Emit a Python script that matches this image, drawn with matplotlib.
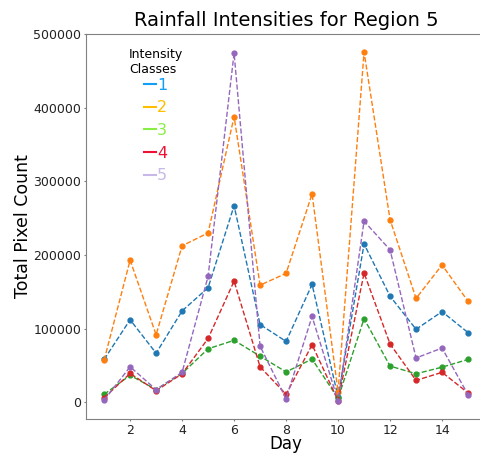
import numpy as np
import matplotlib
matplotlib.use('Agg')
import matplotlib.pyplot as plt
from matplotlib.lines import Line2D

days = list(range(1, 16))

class1 = [58000, 112000, 66500, 124000, 155500, 267000, 105500, 82500, 160000, 7000, 215000, 144000, 99000, 123000, 94500]
class2 = [57000, 193000, 91500, 212500, 230000, 388000, 159000, 175000, 283000, 14000, 476000, 248000, 141000, 186500, 137000]
class3 = [10500, 36500, 17000, 39000, 72500, 84000, 62500, 41000, 58500, 5000, 113500, 49000, 38500, 47500, 58000]
class4 = [5800, 39000, 15500, 38500, 86500, 164500, 48000, 10500, 78000, 2000, 175500, 79000, 29500, 40500, 12500]
class5 = [2700, 48000, 17000, 40500, 171000, 474500, 76000, 4500, 116500, 1400, 246000, 207000, 60000, 73500, 10000]

labels = ['1', '2', '3', '4', '5']
legend_colors = ['#129ff5', '#ffbf00', '#88ee44', '#ee1133', '#c8b8e8']

fig = plt.figure(figsize=(4.8, 4.53), dpi=100)
ax = fig.add_axes([0.179, 0.075, 0.834, 0.85])

for vals in [class1, class2, class3, class4, class5]:
    ax.plot(days, vals, linestyle='--', marker='o', markersize=3.5, linewidth=1)

ax.set_xlim(0.3, 15.7)
ax.set_ylim(-23000, 500500)
ax.set_title('Rainfall Intensities for Region 5', fontsize=14)
ax.set_xlabel('Day', fontsize=12, labelpad=-1)
ax.set_ylabel('Total Pixel Count', fontsize=12.5, labelpad=1)
ax.set_xticks([2, 4, 6, 8, 10, 12, 14])
ax.tick_params(labelsize=9, length=1.5, pad=2, color='#808080', labelcolor='#222222')
for s in ax.spines.values():
    s.set_color('#808080')
ax.spines['right'].set_visible(False)

handles = [Line2D([0], [0], color=c, linewidth=1.5) for c in legend_colors]
leg = ax.legend(handles, labels, title='Intensity\nClasses', frameon=False,
                loc='upper center', bbox_to_anchor=(0.175, 1.0), fontsize=11.5,
                handlelength=0.7, handletextpad=0.1, labelspacing=0.48,
                title_fontsize=9)
leg._legend_box.align = 'center'
leg._legend_box.sep = 1
for t, c in zip(leg.get_texts(), legend_colors):
    t.set_color(c)

fig.savefig('out.png', dpi=100)
